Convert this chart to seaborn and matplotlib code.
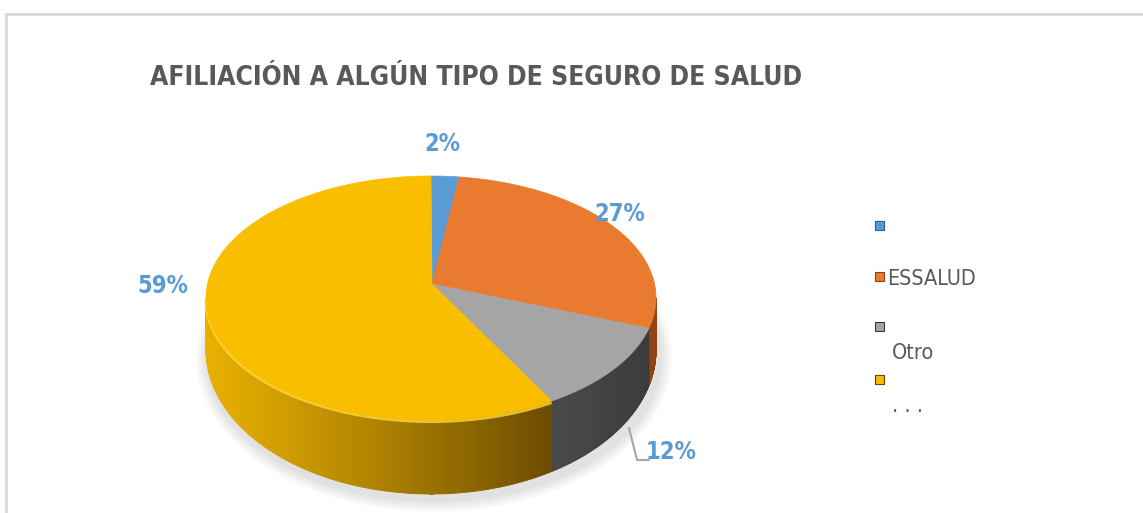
import numpy as np
import seaborn as sns
import matplotlib.pyplot as plt
from matplotlib.patches import Polygon, Ellipse, Rectangle
from matplotlib.colors import to_rgb

# datos del grafico
categories = ['', 'ESSALUD', 'Otro', '. . .']
values = [2, 27, 12, 59]
pct_labels = ['2%', '27%', '12%', '59%']
top_colors = ['#5B9BD5', '#EA7A30', '#A5A5A5', '#F9BE00']
side_light = ['#4A84BA', '#C9631F', '#474747', '#E8B000']
side_dark = ['#2E5A85', '#8E4312', '#3A3A3A', '#614400']

sns.set_theme(style='white')
plt.rcParams['font.family'] = ['DejaVu Sans']
plt.rcParams['font.stretch'] = 'condensed'

W, H = 1143, 513
fig = plt.figure(figsize=(W / 100, H / 100), dpi=100)
ax = fig.add_axes([0, 0, 1, 1])
ax.set_xlim(0, W)
ax.set_ylim(H, 0)
ax.axis('off')

# marco
ax.plot([6, W], [14, 14], color='#D9D9D9', lw=2)
ax.plot([6, 6], [14, H], color='#D9D9D9', lw=2)

# geometria del pastel
cx, cy = 431, 298
a, b = 225, 122
apex = (432, 284)
thick, persp = 52, 22


def top_pt(phi):
    return cx + a * np.cos(phi), cy - b * np.sin(phi)


def bot_pt(phi):
    return cx + a * np.cos(phi), cy + thick - (b + persp) * np.sin(phi)


# sombra
for k in range(6):
    ax.add_patch(Ellipse((cx + 3, cy + thick + 8), 2 * a + 6 + 4 * k,
                         2 * (b + persp) + 4 * k, color='#000000',
                         alpha=0.02, lw=0, zorder=1))

fr = np.array(values) / sum(values)
ends = np.radians(90 - 360 * np.cumsum(fr))
starts = np.concatenate([[np.radians(90)], ends[:-1]])

# paredes laterales (parte frontal visible)
xl, xr = cx - a, cx + a
for i in range(len(values)):
    s, e = starts[i], ends[i]
    lo, hi = max(e, -np.pi), min(s, 0.0)
    if hi <= lo:
        continue
    phis = np.linspace(hi, lo, 120)
    c1, c2 = np.array(to_rgb(side_light[i])), np.array(to_rgb(side_dark[i]))
    for p0, p1 in zip(phis[:-1], phis[1:]):
        pts = [top_pt(p0), top_pt(p1), bot_pt(p1), bot_pt(p0)]
        xm = (pts[0][0] + pts[1][0]) / 2
        if i == 3:
            t = np.clip((xm - xl) / (575 - xl), 0, 1) ** 1.1
        else:
            t = np.clip((xm - 570) / (xr - 570), 0, 1)
        col = c1 * (1 - t) + c2 * t
        ax.add_patch(Polygon(pts, closed=True, fc=col, ec=col, lw=0.6, zorder=2))
    rim = np.array([top_pt(p) for p in phis])
    if i == 3:
        ax.plot(rim[:, 0], rim[:, 1] + 1.5, color='#FFD83A', lw=2.2, alpha=0.8,
                zorder=3, solid_capstyle='butt')

# cara superior
for i in range(len(values)):
    phis = np.linspace(starts[i], ends[i], 200)
    pts = [apex] + [top_pt(p) for p in phis]
    ax.add_patch(Polygon(pts, closed=True, fc=top_colors[i], ec=top_colors[i],
                         lw=0.5, zorder=4))

# etiquetas de porcentaje
label_xy = [(442, 144), (620, 214), (671, 452), (163, 286)]
for txt, (x, y) in zip(pct_labels, label_xy):
    ax.text(x, y, txt, color='#5B9BD5', fontsize=17, fontweight='bold',
            ha='center', va='center', zorder=6)
ax.plot([629, 637, 649], [428, 460, 460], color='#A6A6A6', lw=1.5, zorder=5)

# titulo
ax.text(150, 78, 'AFILIACIÓN A ALGÚN TIPO DE SEGURO DE SALUD', color='#595959',
        fontsize=19, fontweight='bold', ha='left', va='center')

# leyenda
leg_y = [226, 277, 327, 380]
for i, (lab, y) in enumerate(zip(categories, leg_y)):
    ax.add_patch(Rectangle((875, y - 5), 9, 9, fc=top_colors[i],
                           ec=side_dark[i], lw=0.8, zorder=5))
    if i < 2:
        ax.text(887, y + 2, lab, color='#595959', fontsize=15.5, va='center')
    else:
        ax.text(892, y + 26, lab, color='#595959', fontsize=15.5, va='center')

fig.savefig('out.png', dpi=100)
